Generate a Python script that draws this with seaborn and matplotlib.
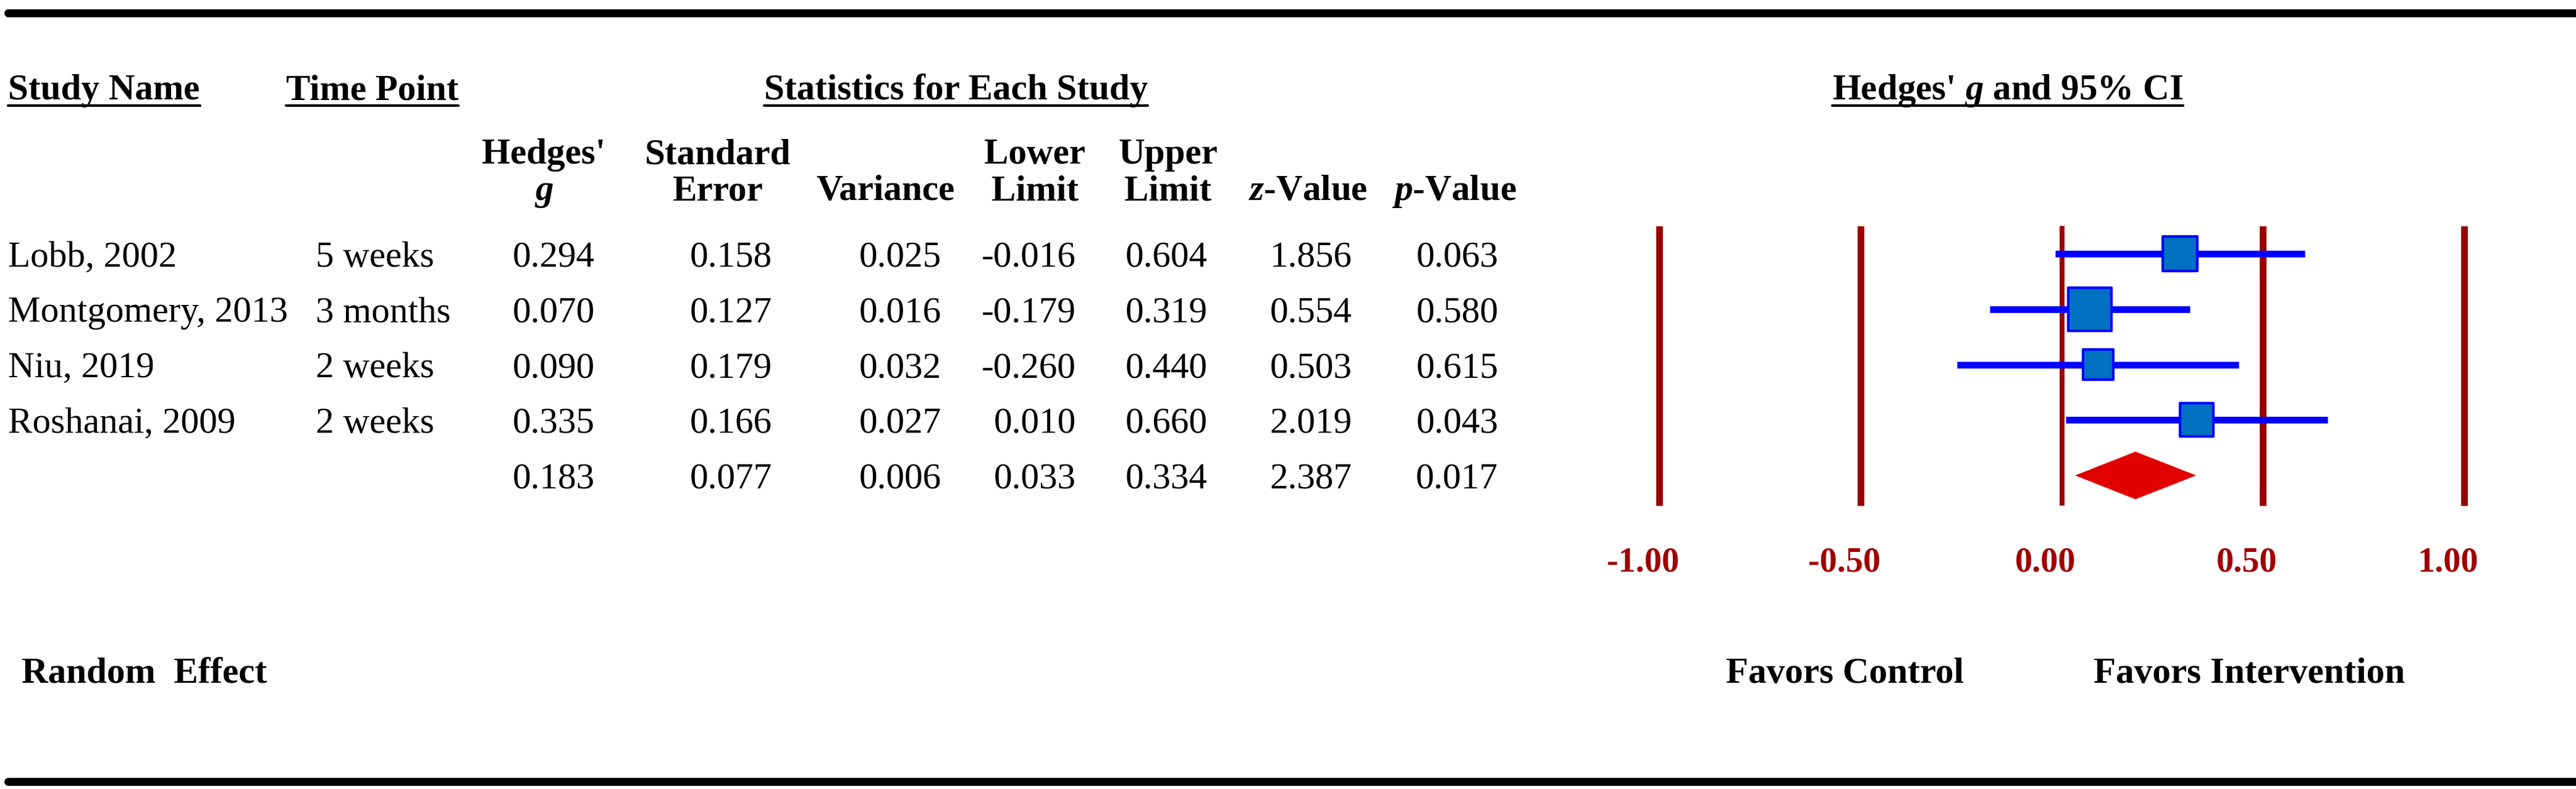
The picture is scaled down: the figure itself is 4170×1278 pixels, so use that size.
import numpy as np
import pandas as pd
import seaborn as sns
import matplotlib.pyplot as plt
import matplotlib.transforms as mtransforms
from matplotlib.lines import Line2D

sns.set_theme(style="white")
plt.rcParams['font.family'] = ['Liberation Serif', 'DejaVu Serif']
plt.rcParams['text.color'] = 'black'
plt.rcParams['mathtext.fontset'] = 'custom'
plt.rcParams['mathtext.rm'] = 'Liberation Serif:bold'
plt.rcParams['mathtext.it'] = 'Liberation Serif:bold:italic'

# data
studies = ["Lobb, 2002", "Montgomery, 2013", "Niu, 2019", "Roshanai, 2009"]
time_points = ["5 weeks", "3 months", "2 weeks", "2 weeks"]
hedges_g = [0.294, 0.070, 0.090, 0.335]
std_err = [0.158, 0.127, 0.179, 0.166]
variance = [0.025, 0.016, 0.032, 0.027]
lower = [-0.016, -0.179, -0.260, 0.010]
upper = [0.604, 0.319, 0.440, 0.660]
z_val = [1.856, 0.554, 0.503, 2.019]
p_val = [0.063, 0.580, 0.615, 0.043]

# random effect summary
sum_g = 0.183
sum_se = 0.077
sum_var = 0.006
sum_lower = 0.033
sum_upper = 0.334
sum_z = 2.387
sum_p = 0.017

x_ticks = [-1.0, -0.5, 0.0, 0.5, 1.0]
tick_labels = ["-1.00", "-0.50", "0.00", "0.50", "1.00"]

df = pd.DataFrame({"study": studies, "g": hedges_g, "lower": lower, "upper": upper,
                   "var": variance})
df["row"] = np.arange(len(df))
df["weight"] = 1.0 / df["var"]

# layout helpers, positions measured on a 1568x481 copy of the reference
W, H = 1568.0, 481.0
def fx(px):
    return px / W
def fy(py):
    return 1 - py / H

fig = plt.figure(figsize=(13.9, 4.2633), dpi=300)

FS = 14.2
dark_red = '#990000'

# forest plot axes
ax = fig.add_axes([fx(985.5), fy(310.25), 539 / W, 175.5 / H])
ax.set_xlim(-1.1, 1.1)
ax.set_ylim(4.6, -0.6)

ax.vlines(x_ticks, -0.5, 4.55, colors=dark_red,
          linewidths=[2.6, 2.6, 1.9, 2.6, 2.6], zorder=1)
ax.hlines(df["row"], df["lower"], df["upper"], colors='#0000FF', linewidth=2.6, zorder=2)
sizes = {w: 4.5 * w for w in df["weight"]}
sns.scatterplot(data=df, x="g", y="row", size="weight", sizes=sizes, marker='s',
                color='#0070C0', edgecolor='#0000FF', linewidth=1.0, legend=False,
                ax=ax, zorder=3)
sum_row = len(df)
ax.fill([sum_lower, sum_g, sum_upper, sum_g],
        [sum_row, sum_row - 0.43, sum_row, sum_row + 0.43],
        color='#E00000', lw=0, zorder=3)

ax.set_xticks(x_ticks)
ax.set_xticklabels(tick_labels, fontsize=13.5, fontweight='bold', color='#A00000')
ax.tick_params(axis='x', length=0, pad=14.5)
ax.set_yticks([])
ax.set_xlabel("")
ax.set_ylabel("")
for s in ax.spines.values():
    s.set_visible(False)
shift = mtransforms.ScaledTranslation(-10 * 2.659 / 300, 0, fig.dpi_scale_trans)
for lab in ax.get_xticklabels():
    lab.set_transform(lab.get_transform() + shift)

# table text: x in figure coords, y in the forest axes' row coords
base = mtransforms.blended_transform_factory(fig.transFigure, ax.transData)
row_tr = base + mtransforms.ScaledTranslation(0, -4.7 / 72, fig.dpi_scale_trans)

col_right = [362, 470, 573, 655, 735, 823, 912]
for i in range(len(studies)):
    fig.text(fx(5), i, studies[i], transform=row_tr, fontsize=FS, va='baseline')
    fig.text(fx(192), i, time_points[i], transform=row_tr, fontsize=FS, va='baseline')
    vals = [hedges_g[i], std_err[i], variance[i], lower[i], upper[i], z_val[i], p_val[i]]
    for xr, v in zip(col_right, vals):
        fig.text(fx(xr), i, "{:.3f}".format(v), transform=row_tr, fontsize=FS,
                 va='baseline', ha='right')
sum_vals = [sum_g, sum_se, sum_var, sum_lower, sum_upper, sum_z, sum_p]
for xr, v in zip(col_right, sum_vals):
    fig.text(fx(xr), sum_row, "{:.3f}".format(v), transform=row_tr, fontsize=FS,
             va='baseline', ha='right')

# headers
underlined = []
underlined.append(fig.text(fx(5), fy(60.6), "Study Name", fontsize=FS, fontweight='bold', va='baseline'))
underlined.append(fig.text(fx(174), fy(60.6), "Time Point", fontsize=FS, fontweight='bold', va='baseline'))
underlined.append(fig.text(fx(582), fy(60.6), "Statistics for Each Study", fontsize=FS,
                           fontweight='bold', va='baseline', ha='center'))
underlined.append(fig.text(fx(1222), fy(60.6), "Hedges' $g$ and 95% CI", fontsize=FS,
                           fontweight='bold', va='baseline', ha='center'))

col_heads = [("Hedges'", "$g$", 331), ("Standard", "Error", 437), ("", "Variance", 539),
             ("Lower", "Limit", 630), ("Upper", "Limit", 711), ("", "$z$-Value", 796),
             ("", "$p$-Value", 885)]
for top, bottom, xc in col_heads:
    if top:
        fig.text(fx(xc), fy(99.7), top, fontsize=FS, fontweight='bold', va='baseline', ha='center')
    fig.text(fx(xc), fy(122), bottom, fontsize=FS, fontweight='bold', va='baseline', ha='center')

fig.text(fx(13), fy(416), "Random  Effect", fontsize=FS, fontweight='bold', va='baseline')
fig.text(fx(1123), fy(416), "Favors Control", fontsize=FS, fontweight='bold', va='baseline', ha='center')
fig.text(fx(1369), fy(416), "Favors Intervention", fontsize=FS, fontweight='bold', va='baseline', ha='center')

# thick rules at top and bottom
fig.add_artist(Line2D([0.003, 1.0], [fy(8.1), fy(8.1)], lw=3.1, color='black',
                      transform=fig.transFigure))
fig.add_artist(Line2D([0.003, 1.0], [fy(476.5), fy(476.5)], lw=3.1, color='black',
                      transform=fig.transFigure))

# underline the section headers
fig.canvas.draw()
inv = fig.transFigure.inverted()
for t in underlined:
    bb = t.get_window_extent().transformed(inv)
    fig.add_artist(Line2D([bb.x0, bb.x1], [fy(64.6), fy(64.6)], lw=1.0, color='black',
                          transform=fig.transFigure))

fig.savefig("out.png", dpi=300, facecolor='white')
